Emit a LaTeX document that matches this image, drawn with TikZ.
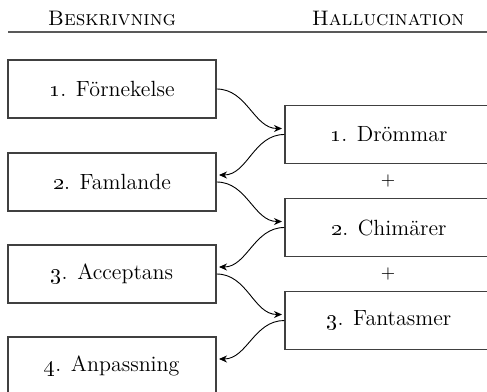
\documentclass[tikz,border=0pt]{standalone}
\usetikzlibrary{arrows.meta}

\tikzset{
  stage/.style={draw=black!75, line width=0.6pt, fill=white,
    minimum width=104pt, minimum height=29pt, inner sep=0pt,
    font=\fontsize{11}{13}\selectfont},
  head/.style={font=\fontsize{10.5}{12}\selectfont\scshape},
  flow/.style={-{Stealth[length=4pt,width=3.5pt]}, line width=0.45pt, shorten >=1.2pt},
}

\begin{document}
\begin{tikzpicture}[x=0.5pt,y=-0.5pt]
  \clip (0,0) rectangle (487,391);

  % column heads
  \node[head] (hb) at (112,18) {Beskrivning};
  \node[head] (hh) at (388,18) {Hallucination};
  \draw[black!65, line width=0.75pt] (8,32) -- (487,32);

  % left column
  \node[stage] (b1) at (112,89)  {\oldstylenums{1}. Förnekelse};
  \node[stage] (b2) at (112,182) {\oldstylenums{2}. Famlande};
  \node[stage] (b3) at (112,274) {\oldstylenums{3}. Acceptans};
  \node[stage] (b4) at (112,366) {\oldstylenums{4}. Anpassning};

  % right column
  \node[stage] (r1) at (389,134.5) {\oldstylenums{1}. Drömmar};
  \node[stage] (r2) at (389,227.5) {\oldstylenums{2}. Chimärer};
  \node[stage] (r3) at (389,320.5) {\oldstylenums{3}. Fantasmer};
  \node[font=\small] (p1) at (388,181) {$+$};
  \node[font=\small] (p2) at (388,274) {$+$};

  \draw[flow] (b1.east) to[out=0,in=180] ([yshift=3pt]r1.west);
  \draw[flow] (r1.west) to[out=180,in=0] ([yshift=3.5pt]b2.east);
  \draw[flow] (b2.east) to[out=0,in=180] ([yshift=3pt]r2.west);
  \draw[flow] (r2.west) to[out=180,in=0] ([yshift=3.5pt]b3.east);
  \draw[flow] (b3.east) to[out=0,in=180] ([yshift=3pt]r3.west);
  \draw[flow] (r3.west) to[out=180,in=0] ([yshift=3.5pt]b4.east);
\end{tikzpicture}
\end{document}
